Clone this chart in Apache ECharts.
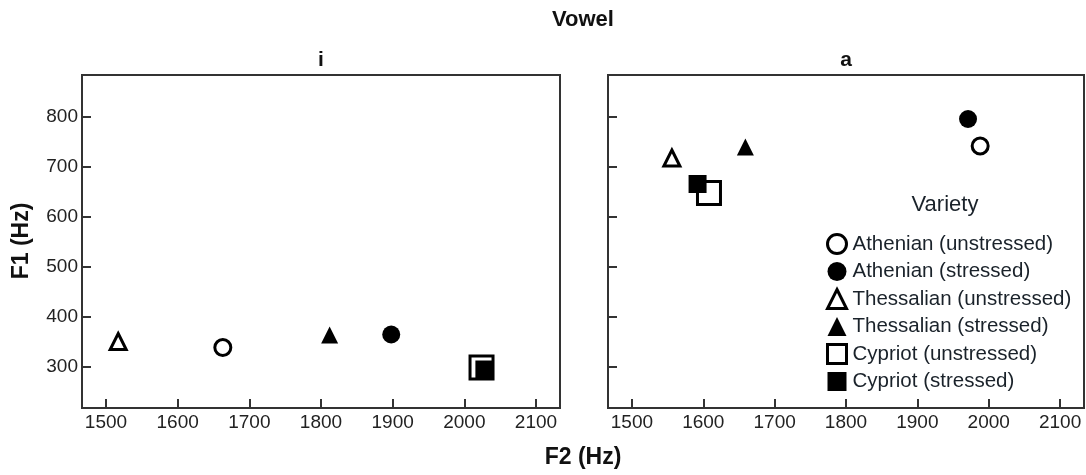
<!DOCTYPE html>
<html>
<head>
<meta charset="utf-8">
<script src="https://cdn.jsdelivr.net/npm/echarts@6/dist/echarts.min.js"></script>
<style>
html,body{margin:0;padding:0;background:#fff;}
#chart{width:1086px;height:475px;}
</style>
</head>
<body>
<div id="chart"></div>
<script>
// ---- data ----
const xTicks = [1500, 1600, 1700, 1800, 1900, 2000, 2100];
const yTicks = [300, 400, 500, 600, 700, 800];
const panels = ['i', 'a'];
const varieties = [
  'Athenian (unstressed)', 'Athenian (stressed)',
  'Thessalian (unstressed)', 'Thessalian (stressed)',
  'Cypriot (unstressed)', 'Cypriot (stressed)'
];
// vowel i: F2, F1 per variety
const iF2 = [1663, 1898, 1517, 1812, 2024, 2028];
const iF1 = [338, 364, 350, 363, 298, 294];
// vowel a: F2, F1 per variety
const aF2 = [1988, 1971, 1556, 1659, 1608, 1592];
const aF1 = [741, 795, 717, 739, 647, 665];

// ---- styles ----
const FONT = '"Liberation Sans", Arial, sans-serif';
const symbols = [
  {symbol: 'circle', size: 16, open: true},
  {symbol: 'circle', size: 18, open: false},
  {symbol: 'triangle', size: 16, open: true},
  {symbol: 'triangle', size: 17, open: false},
  {symbol: 'rect', size: 23, open: true},
  {symbol: 'rect', size: 18, open: false}
];
function styleFor(k) {
  const s = symbols[k];
  return s.open
    ? {color: '#fff', borderColor: '#000', borderWidth: 3, opacity: 1}
    : {color: '#000', borderColor: '#000', borderWidth: 0, opacity: 1};
}

const chart = echarts.init(document.getElementById('chart'), null, {renderer: 'canvas'});

const grids = [
  {left: 82, top: 75, width: 478, height: 333},
  {left: 608, top: 75, width: 476, height: 333}
];
const xRange = [1466.5, 2133.5];
const yRange = [217, 883];

const plain = v => String(Math.round(v));
const axisLineStyle = {color: '#333', width: 2};
const xAxes = grids.map((g, gi) => ({
  type: 'value', gridIndex: gi, min: xRange[0], max: xRange[1],
  axisLine: {show: true, onZero: false, lineStyle: axisLineStyle},
  axisTick: {show: true, inside: true, length: 9, customValues: xTicks, lineStyle: {color: '#333', width: 2}},
  axisLabel: {show: true, customValues: xTicks, formatter: plain, color: '#222', fontSize: 19, fontFamily: FONT, margin: 5},
  splitLine: {show: false}
}));
const yAxes = grids.map((g, gi) => ({
  type: 'value', gridIndex: gi, min: yRange[0], max: yRange[1],
  axisLine: {show: true, onZero: false, lineStyle: axisLineStyle},
  axisTick: {show: true, inside: true, length: 9, customValues: yTicks, lineStyle: {color: '#333', width: 2}},
  axisLabel: {show: gi === 0, customValues: yTicks, formatter: plain, color: '#222', fontSize: 19, fontFamily: FONT, margin: 4},
  splitLine: {show: false}
}));

const series = [];
[[iF2, iF1], [aF2, aF1]].forEach((pair, gi) => {
  varieties.forEach((name, k) => {
    series.push({
      type: 'scatter', name: name, xAxisIndex: gi, yAxisIndex: gi,
      symbol: symbols[k].symbol, symbolSize: symbols[k].size,
      itemStyle: styleFor(k),
      emphasis: {disabled: true},
      z: 2 + k,
      data: [[pair[0][k], pair[1][k]]]
    });
  });
});

const legendData = varieties.map((name, k) => ({
  name: name,
  icon: symbols[k].symbol,
  itemStyle: styleFor(k)
}));

const graphicText = (text, x, y, size, bold, rot) => ({
  type: 'text', x: x, y: y, rotation: rot || 0, silent: true,
  style: {text: text, fill: '#111', font: (bold ? 'bold ' : '') + size + 'px ' + FONT, align: 'center', verticalAlign: 'middle'}
});

chart.setOption({
  animation: false,
  backgroundColor: '#fff',
  grid: grids.map(g => Object.assign({show: true, borderColor: '#333', borderWidth: 2, backgroundColor: 'transparent'}, g)),
  xAxis: xAxes,
  yAxis: yAxes,
  legend: {
    show: true, orient: 'vertical', left: 821, top: 228,
    itemWidth: 19, itemHeight: 19, itemGap: 6,
    selectedMode: false,
    textStyle: {fontSize: 20.5, lineHeight: 19, fontFamily: FONT, color: '#1a222a', padding: [0, 0, 0, 1]},
    data: legendData
  },
  graphic: [
    graphicText('Vowel', 583, 20, 22, true),
    graphicText(panels[0], 321, 60, 21, true),
    graphicText(panels[1], 846, 60, 21, true),
    graphicText('F2 (Hz)', 583, 458, 23, true),
    graphicText('F1 (Hz)', 22, 241, 23, true, Math.PI / 2),
    {type: 'text', x: 945, y: 205, silent: true,
     style: {text: 'Variety', fill: '#1a222a', font: '22px ' + FONT, align: 'center', verticalAlign: 'middle'}}
  ],
  series: series
});
</script>
</body>
</html>
